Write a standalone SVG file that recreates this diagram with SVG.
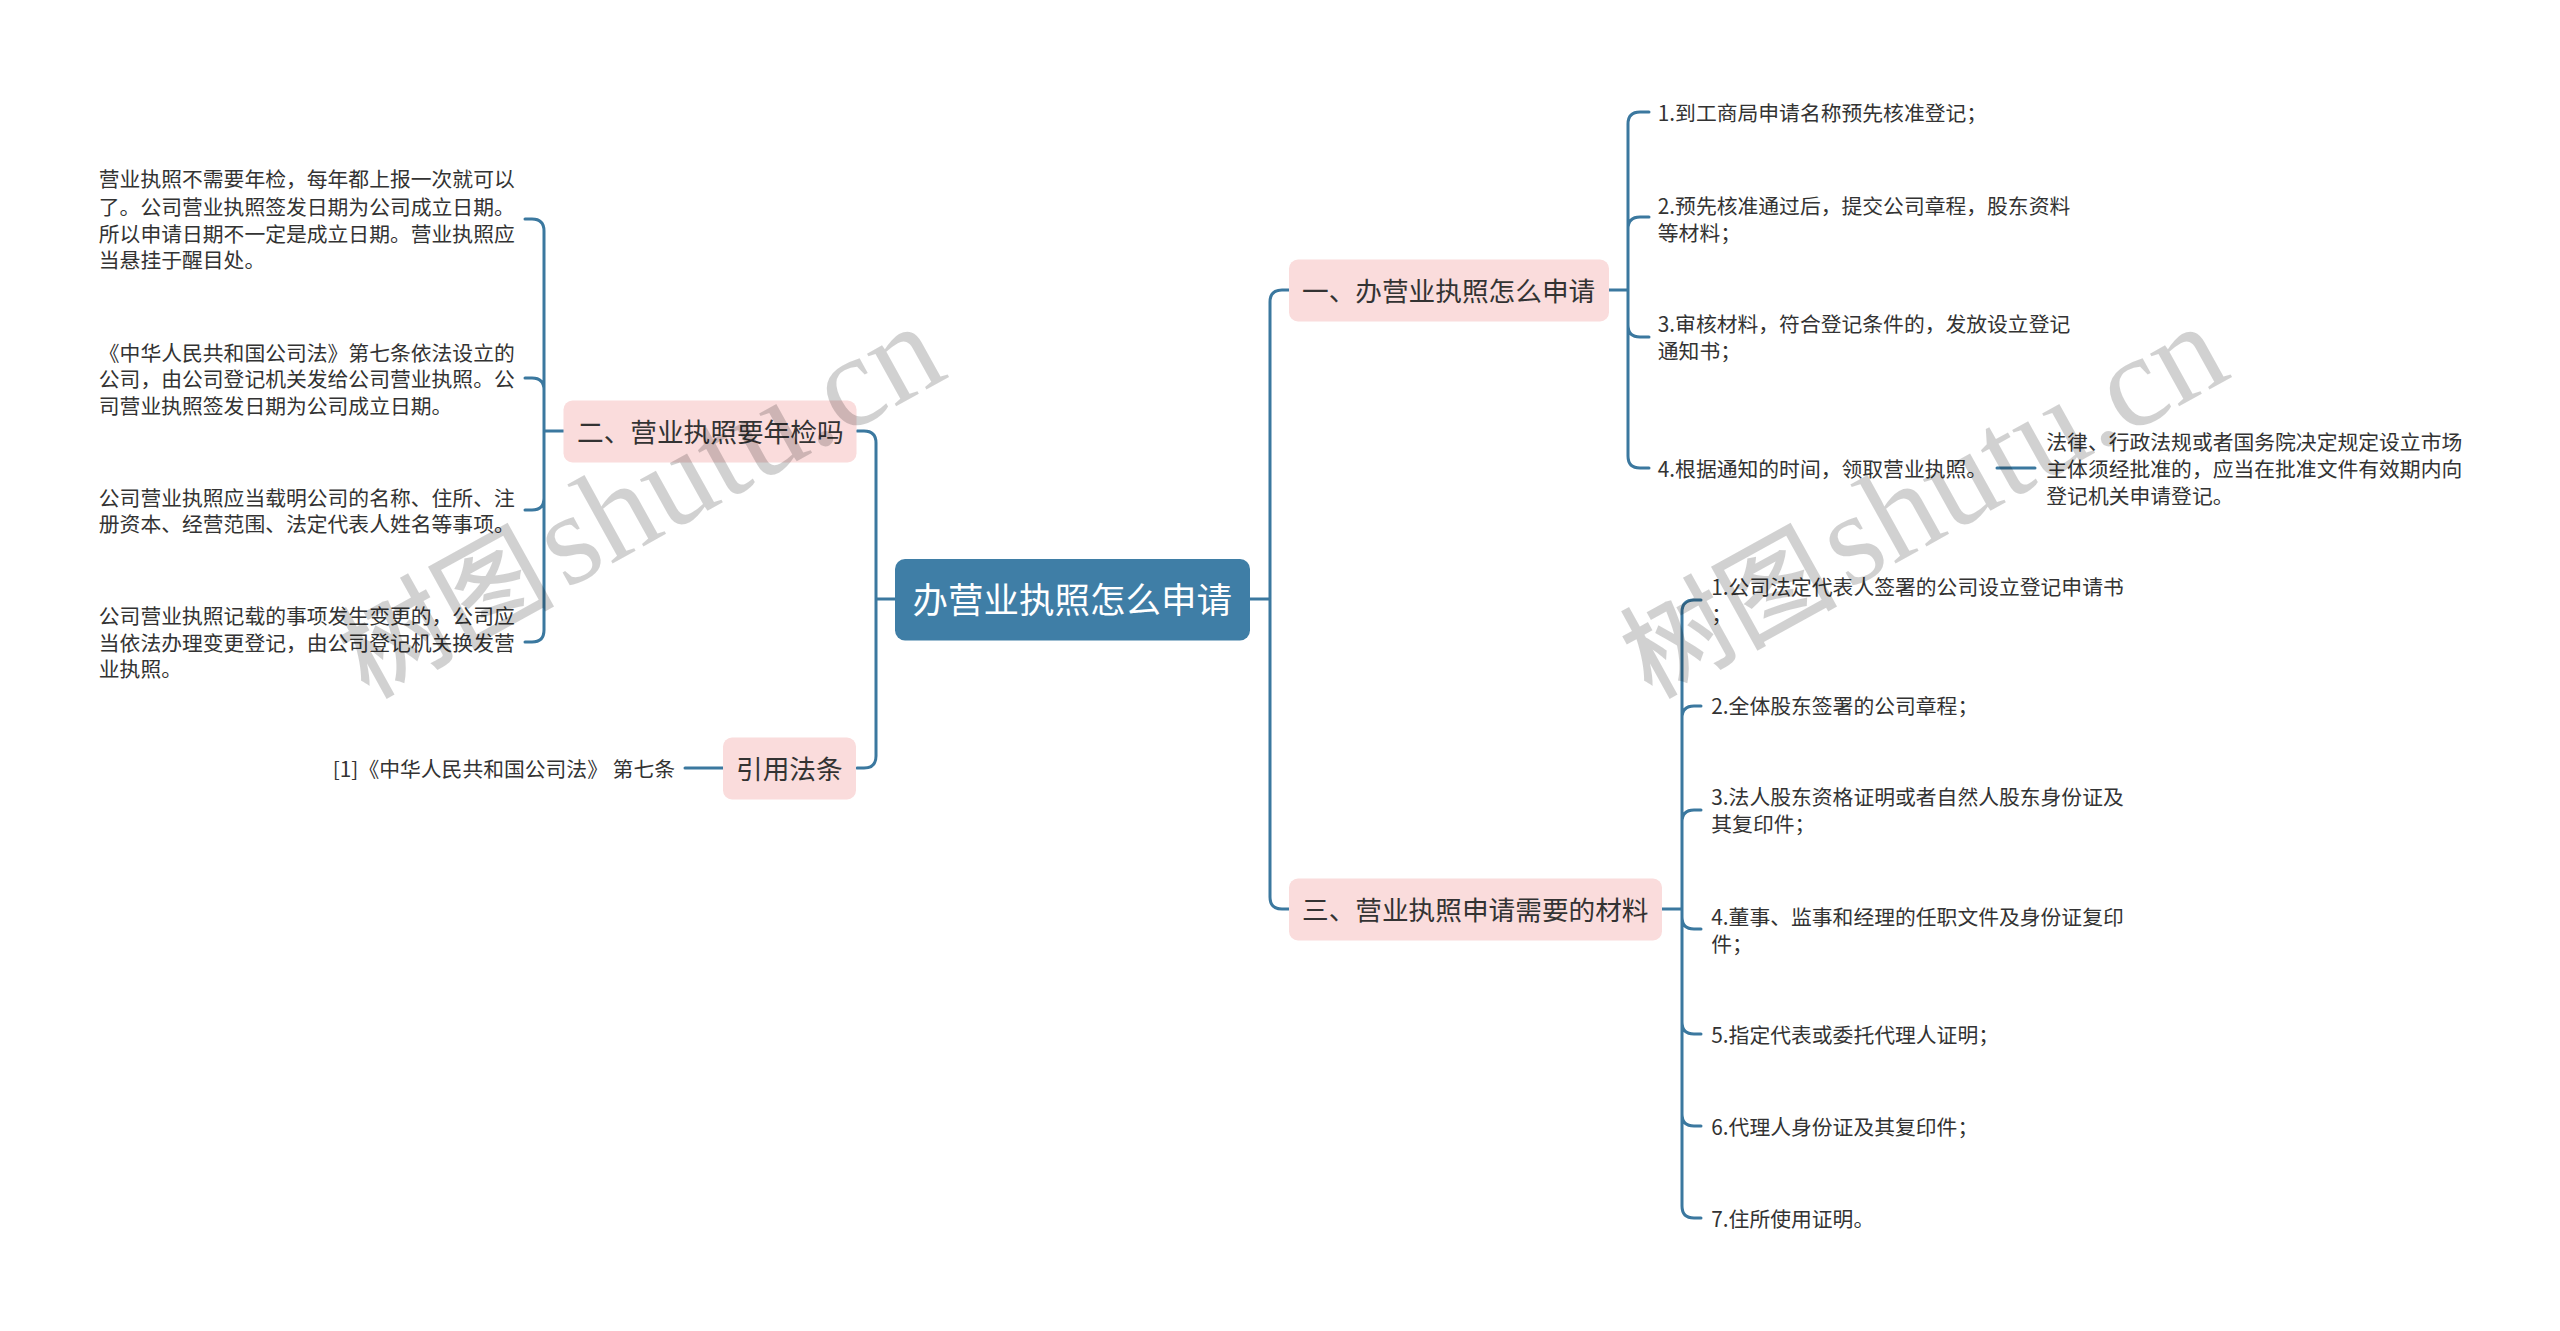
<svg xmlns="http://www.w3.org/2000/svg" width="2560" height="1331" viewBox="0 0 2560 1331">
<style>
text{font-family:"Noto Sans CJK SC","Noto Sans",sans-serif;fill:#333}
.leaf{font-size:20.8px;transform:translate(-.7px,-.7px)}
.branch{font-size:26.67px}
.center{font-size:35.5px;fill:#fff}
.pink{fill:#fadcdc}
text.wm{font-family:"Liberation Serif","Noto Sans CJK SC",serif;font-size:131px;fill:#000;fill-opacity:.18}
.wm .cjk{font-family:"Noto Sans CJK SC",serif;font-size:108px;font-weight:500}
#connectors path{fill:none;stroke:#3b789f;stroke-width:3;stroke-linecap:round}
</style>
<rect width="2560" height="1331" fill="#fff"/>
<g id="connectors">
<path d="M895 599H876M857 431H864Q876 431 876 443V756Q876 768 864 768H857"/>
<path d="M1250 599H1270M1289 290H1282Q1270 290 1270 302V897Q1270 909 1282 909H1289"/>
<path d="M1609 290H1628M1649 112H1640Q1628 112 1628 124V456Q1628 468 1640 468H1649M1649 217H1640Q1628 217 1628 229M1649 337H1640Q1628 337 1628 325"/>
<path d="M1997 468H2035"/>
<path d="M1662 909H1682M1701 600H1694Q1682 600 1682 612V1206Q1682 1218 1694 1218H1701M1701 706H1694Q1682 706 1682 718M1701 810H1694Q1682 810 1682 822M1701 929H1694Q1682 929 1682 917M1701 1034H1694Q1682 1034 1682 1022M1701 1126H1694Q1682 1126 1682 1114"/>
<path d="M564 431H544M525 219H532Q544 219 544 231V630Q544 642 532 642H525M525 378H532Q544 378 544 390M525 510H532Q544 510 544 498"/>
<path d="M723 768H685"/>
</g>
<g id="root"><rect x="895" y="559" width="355" height="81.500" rx="10" fill="#3f7ea6"/><text class="center" x="912.500" y="612.500">办营业执照怎么申请</text></g>
<g id="b1"><rect class="pink" x="1289" y="259.500" width="320" height="62" rx="9"/><text class="branch" x="1302" y="301">一、办营业执照怎么申请</text></g>
<g id="b2"><rect class="pink" x="563.500" y="400.500" width="293" height="62" rx="9"/><text class="branch" x="577" y="442">二、营业执照要年检吗</text></g>
<g id="b3"><rect class="pink" x="1289" y="878.500" width="373" height="62" rx="9"/><text class="branch" x="1302" y="920">三、营业执照申请需要的材料</text></g>
<g id="b4"><rect class="pink" x="723" y="737.500" width="133" height="62" rx="9"/><text class="branch" x="736" y="779">引用法条</text></g>
<g id="l1"><text class="leaf" x="99.500" y="188">营业执照不需要年检，每年都上报一次就可以</text><text class="leaf" x="99.500" y="215.700">了。公司营业执照签发日期为公司成立日期。</text><text class="leaf" x="99.500" y="242.300">所以申请日期不一定是成立日期。营业执照应</text><text class="leaf" x="99.500" y="269">当悬挂于醒目处。</text></g>
<g id="l2"><text class="leaf" x="99.500" y="361.300">《中华人民共和国公司法》第七条依法设立的</text><text class="leaf" x="99.500" y="388">公司，由公司登记机关发给公司营业执照。公</text><text class="leaf" x="99.500" y="414.700">司营业执照签发日期为公司成立日期。</text></g>
<g id="l3"><text class="leaf" x="99.500" y="506.300">公司营业执照应当载明公司的名称、住所、注</text><text class="leaf" x="99.500" y="533">册资本、经营范围、法定代表人姓名等事项。</text></g>
<g id="l4"><text class="leaf" x="99.500" y="624.700">公司营业执照记载的事项发生变更的，公司应</text><text class="leaf" x="99.500" y="651.300">当依法办理变更登记，由公司登记机关换发营</text><text class="leaf" x="99.500" y="678">业执照。</text></g>
<g id="l5"><text class="leaf" x="333.500" y="777.500">[1]《中华人民共和国公司法》 第七条</text></g>
<g id="r1"><text class="leaf" x="1658.500" y="122">1.到工商局申请名称预先核准登记；</text></g>
<g id="r2"><text class="leaf" x="1658.500" y="215">2.预先核准通过后，提交公司章程，股东资料</text><text class="leaf" x="1658.500" y="241.700">等材料；</text></g>
<g id="r3"><text class="leaf" x="1658.500" y="333">3.审核材料，符合登记条件的，发放设立登记</text><text class="leaf" x="1658.500" y="359.700">通知书；</text></g>
<g id="r4"><text class="leaf" x="1658.500" y="478">4.根据通知的时间，领取营业执照。</text></g>
<g id="r4a"><text class="leaf" x="2047" y="451">法律、行政法规或者国务院决定规定设立市场</text><text class="leaf" x="2047" y="478">主体须经批准的，应当在批准文件有效期内向</text><text class="leaf" x="2047" y="505">登记机关申请登记。</text></g>
<g id="m1"><text class="leaf" x="1712" y="596">1.公司法定代表人签署的公司设立登记申请书</text><text class="leaf" x="1712" y="622.700">；</text></g>
<g id="m2"><text class="leaf" x="1712" y="715">2.全体股东签署的公司章程；</text></g>
<g id="m3"><text class="leaf" x="1712" y="806">3.法人股东资格证明或者自然人股东身份证及</text><text class="leaf" x="1712" y="832.700">其复印件；</text></g>
<g id="m4"><text class="leaf" x="1712" y="926">4.董事、监事和经理的任职文件及身份证复印</text><text class="leaf" x="1712" y="952.700">件；</text></g>
<g id="m5"><text class="leaf" x="1712" y="1044">5.指定代表或委托代理人证明；</text></g>
<g id="m6"><text class="leaf" x="1712" y="1136">6.代理人身份证及其复印件；</text></g>
<g id="m7"><text class="leaf" x="1712" y="1228">7.住所使用证明。</text></g>
<text class="wm" transform="translate(368 699) rotate(-29)"><tspan class="cjk">树图</tspan><tspan x="226">shutu.cn</tspan></text>
<text class="wm" transform="translate(1651 699) rotate(-29)"><tspan class="cjk">树图</tspan><tspan x="226">shutu.cn</tspan></text>
</svg>
